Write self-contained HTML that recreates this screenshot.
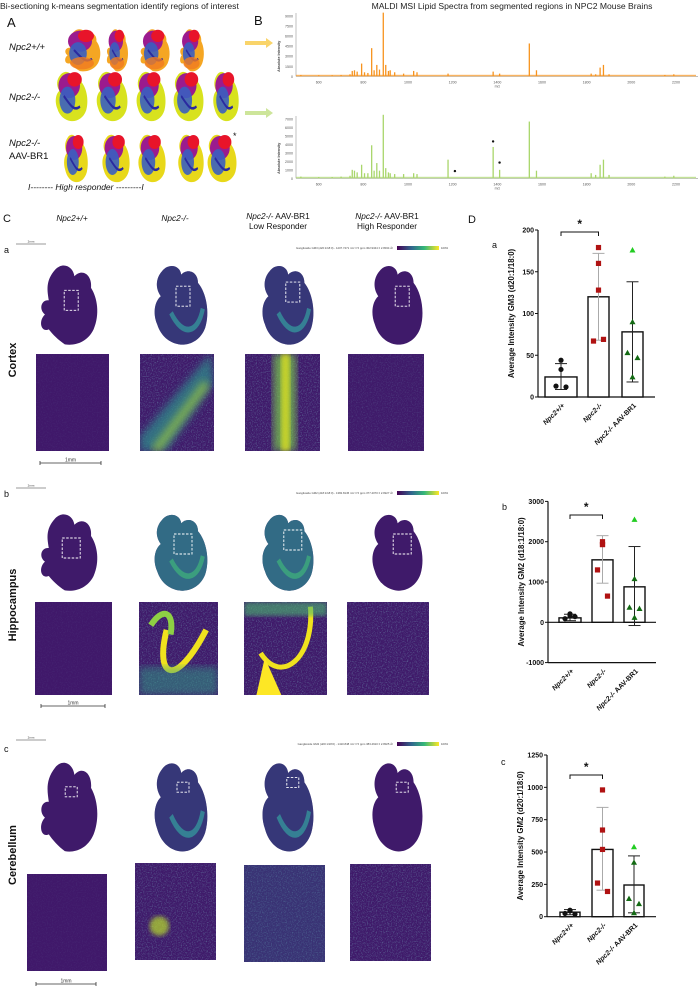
<!DOCTYPE html>
<html><head><meta charset="utf-8"><style>
html,body{margin:0;padding:0;background:#fff;}
svg{display:block;font-family:"Liberation Sans",sans-serif;}
</style></head><body>
<svg id="fig" width="698" height="988" viewBox="0 0 698 988" xmlns="http://www.w3.org/2000/svg">
<defs>
<path id="brainA" d="M30,8 C42,-2 58,4 60,16 C72,6 88,14 86,30 C96,42 100,62 90,80 C80,96 60,100 45,98 C35,93 26,86 20,80 C8,84 3,70 14,62 C4,56 8,44 20,45 C18,34 14,22 30,8 Z"/>
<path id="brainB" d="M20,10 C30,0 50,2 52,14 C62,6 80,10 80,24 C94,36 100,60 92,78 C84,94 64,100 48,98 C32,96 18,88 12,74 C4,60 8,46 18,40 C8,30 10,18 20,10 Z"/>
<filter id="noise" x="0" y="0" width="100%" height="100%"><feTurbulence type="fractalNoise" baseFrequency="0.8" numOctaves="2" result="n"/><feColorMatrix type="matrix" values="0 0 0 0 0.2  0 0 0 0 0.45  0 0 0 0 0.55  0 0 0 1.6 -0.75"/><feComposite in2="SourceGraphic" operator="in"/></filter>
<filter id="blur2"><feGaussianBlur stdDeviation="2"/></filter>
<filter id="blur4"><feGaussianBlur stdDeviation="4"/></filter>
</defs>

<!-- Titles -->
<text x="0" y="9" font-size="8.6" fill="#222">Bi-sectioning k-means segmentation identify regions of interest</text>
<text x="512" y="9" font-size="8.6" fill="#222" text-anchor="middle">MALDI MSI Lipid Spectra from segmented regions in NPC2 Mouse Brains</text>
<text x="7" y="27" font-size="13" fill="#111">A</text>
<text x="254" y="25" font-size="13" fill="#111">B</text>

<g font-size="9.5" fill="#111">
<text x="9" y="50" font-style="italic">Npc2+/+</text>
<text x="9" y="100" font-style="italic">Npc2-/-</text>
<text x="9" y="146" font-style="italic">Npc2-/-</text>
<text x="9" y="159">AAV-BR1</text>
<text x="28" y="190" font-style="italic" font-size="8.5">I-------- High responder ---------I</text>
<text x="224" y="145" font-size="14">*</text>
<text x="233" y="139" font-size="9">*</text>
</g>
<g id="brainsA"></g>

<!-- arrows -->
<g><rect x="245" y="41" width="22" height="4" fill="#f9d46a"/><polygon points="266,38 273,43 266,48" fill="#f9d46a"/></g>
<g><rect x="245" y="111" width="22" height="4" fill="#cde59a"/><polygon points="266,108 273,113 266,118" fill="#cde59a"/></g>

<g id="spectra"></g>

<!-- Panel C headers -->
<text x="3" y="222" font-size="11" fill="#111">C</text>
<g font-size="8.3" fill="#111" text-anchor="middle">
<text x="72" y="221" font-style="italic">Npc2+/+</text>
<text x="175" y="221" font-style="italic">Npc2-/-</text>
<text x="278" y="219"><tspan font-style="italic">Npc2-/-</tspan> AAV-BR1</text>
<text x="278" y="229">Low Responder</text>
<text x="387" y="219"><tspan font-style="italic">Npc2-/-</tspan> AAV-BR1</text>
<text x="387" y="229">High Responder</text>
</g>
<text x="468" y="223" font-size="11" fill="#111">D</text>

<g id="imaging"></g>
<g id="charts"></g>
</svg>
<script>
const NS="http://www.w3.org/2000/svg";
function mk(tag,attrs,parent,txt){const e=document.createElementNS(NS,tag);for(const k in attrs)e.setAttribute(k,attrs[k]);if(txt!==undefined)e.textContent=txt;parent.appendChild(e);return e;}

/* ---------- spectra data ---------- */
const specMz=[520,600,660,700,740,750,760,772,792,805,820,837,848,860,872,889,900,912,920,940,980,1025,1040,1179,1381,1410,1543,1575,1820,1840,1860,1875,1900,2150,2190];
const specTop=[200,150,150,200,300,800,900,700,1900,600,500,4200,900,1700,1000,9500,1700,800,900,600,400,800,600,400,700,400,4900,900,400,300,1300,1700,300,200,300];
const specBottom=[200,150,150,200,300,1000,900,700,1600,600,600,3900,900,1800,900,7500,1200,700,600,500,500,600,500,2200,3700,1000,6700,900,600,400,1600,2200,400,200,300];
const specTicks=[600,800,1000,1200,1400,1600,1800,2000,2200];
const starMz=[1210,1381,1410];
const starVal=[500,4000,1500];

(function(){
const g=document.getElementById('spectra');
const xm=m=>318.7+(m-600)*0.2233;
function spec(y0,pxPer1000,maxTick,tickStep,vals,color,name){
  const sg=mk('g',{},g);
  
  
  const yv=v=>y0-v/1000*pxPer1000;
  mk('line',{x1:296,y1:y0,x2:698,y2:y0,stroke:'#999','stroke-width':0.6},sg);
  mk('line',{x1:296,y1:y0,x2:296,y2:yv(maxTick)-3,stroke:'#999','stroke-width':0.6},sg);
  for(let t=0;t<=maxTick;t+=tickStep){
    mk('text',{x:293,y:yv(t)+1.5,'font-size':3.6,'text-anchor':'end',fill:'#555'},sg,String(t));
  }
  specTicks.forEach(t=>{mk('text',{x:xm(t),y:y0+7,'font-size':3.6,'text-anchor':'middle',fill:'#555'},sg,String(t));});
  mk('text',{x:xm(1400),y:y0+11,'font-size':3.4,'text-anchor':'middle',fill:'#555'},sg,'m/z');
  mk('text',{x:0,y:0,'font-size':3.6,'font-weight':'bold',fill:'#444',transform:`translate(280,${y0-20}) rotate(-90)`,'text-anchor':'middle'},sg,'Absolute Intensity');
  mk('rect',{x:296,y:y0-1.5,width:400,height:1.5,fill:color,opacity:0.7},sg);
  specMz.forEach((m,i)=>{
    const p=mk('rect',{x:xm(m)-0.6,y:yv(vals[i]),width:1.3,height:vals[i]/1000*pxPer1000,fill:color},sg);
    
    
  });
  return yv;
}
spec(76.3,6.7,9000,1500,specTop,'#f7931e','spectrum-wt');
const yb=spec(178.3,8.47,7000,1000,specBottom,'#a9d66b','spectrum-ko');
starMz.forEach((m,i)=>{const c=mk('circle',{cx:xm(m),cy:yb(starVal[i])-3,r:1.2,fill:'#111'},g);
  });
})();

/* ---------- panel A brains ---------- */
(function(){
const g=document.getElementById('brainsA');
const rows=[
 {y:28,h:44,base:'#f5a623',items:[[62,40],[105,24],[138,33],[178,27]],shape:'brainA'},
 {y:70,h:52,base:'#d8e21e',items:[[53,36],[94,35],[134,33],[171,34],[211,29]],shape:'brainB'},
 {y:133,h:50,base:'#e8d81a',items:[[62,27],[100,31],[136,31],[176,29],[205,33]],shape:'brainB'}
];
rows.forEach((r,ri)=>{
  r.items.forEach(([x,w],i)=>{
    const bg=mk('g',{transform:`translate(${x},${r.y}) scale(${w/100},${r.h/100})`},g);
    
    
    mk('use',{href:'#'+r.shape,fill:r.base},bg);
    mk('ellipse',{cx:45,cy:30,rx:30,ry:24,fill:'#9b1b8e'},bg);
    mk('ellipse',{cx:60,cy:18,rx:20,ry:14,fill:'#e8142a'},bg);
    mk('ellipse',{cx:40,cy:58,rx:22,ry:26,fill:'#3a5fc0',opacity:0.9},bg);
    mk('path',{d:'M30,50 C50,70 60,80 75,70',stroke:'#2a2aa0','stroke-width':5,fill:'none'},bg);
    if(ri===0) mk('ellipse',{cx:50,cy:80,rx:30,ry:14,fill:'#f07a20',opacity:0.8},bg);
  });
});
})();

/* ---------- imaging panels ---------- */
(function(){
const g=document.getElementById('imaging');
const D='#3f1a6a';
const rowsY=[{lab:'a',ly:253,bar:244,cb:247,by:263,bh:83,ty:[354,354,354,354],tb:[451,451,451,451],tx:[[36,109],[140,214],[245,320],[348,424]],name:'Cortex',ny:360,sb:463,sbx:[40,101]},
 {lab:'b',ly:497,bar:488,cb:492,by:512,bh:80,ty:[602,602,602,602],tb:[695,695,695,695],tx:[[35,112],[139,218],[244,327],[347,429]],name:'Hippocampus',ny:605,sb:706,sbx:[41,105]},
 {lab:'c',ly:752,bar:740,cb:743,by:760,bh:93,ty:[874,863,865,864],tb:[971,960,962,961],tx:[[27,107],[135,216],[244,325],[350,431]],name:'Cerebellum',ny:855,sb:984,sbx:[36,96]}];
const brainX=[[36,100],[150,210],[258,316],[368,425]];
rowsY.forEach((r,ri)=>{
  mk('text',{x:4,y:r.ly,'font-size':9,fill:'#111'},g,r.lab);
  mk('line',{x1:16,y1:r.bar,x2:46,y2:r.bar,stroke:'#333','stroke-width':0.6},g);
  mk('text',{x:(16+46)/2,y:r.bar-1.5,'font-size':3,'text-anchor':'middle',fill:'#333'},g,'2mm');
  const cbg=mk('defs',{},g);
  const lg=mk('linearGradient',{id:'vir'+ri,x1:0,x2:1,y1:0,y2:0},cbg);
  [['0','#440154'],['0.35','#31688e'],['0.65','#35b779'],['1','#fde725']].forEach(s=>mk('stop',{offset:s[0],'stop-color':s[1]},lg));
  mk('text',{x:393,y:r.cb+2,'font-size':2.8,'text-anchor':'end',fill:'#444'},g,['Ganglioside GM3 (d20:1/18:0) - 1207.7471 m/z ± 5 ppm 302.9344 ± 2.8034 Å²','Ganglioside GM2 (d18:1/18:0) - 1382.8145 m/z ± 5 ppm 377.4070 ± 2.8227 Å²','Ganglioside GM2 (d20:1/18:0) - 1410.848 m/z ± 5 ppm 383.4910 ± 2.8025 Å²'][ri]);
  mk('rect',{x:397,y:r.cb-1,width:42,height:4,fill:`url(#vir${ri})`},g);
  mk('text',{x:441,y:r.cb+2,'font-size':2.8,fill:'#444'},g,'100%');
  mk('text',{x:0,y:0,'font-size':11,'font-weight':'bold',fill:'#111','text-anchor':'middle',transform:`translate(16,${r.ny}) rotate(-90)`},g,r.name);
  brainX.forEach(([x1,x2],ci)=>{
    const w=x2-x1;
    const bg=mk('g',{transform:`translate(${x1},${r.by}) scale(${w/100},${r.bh/100})`},g);
    
    
    mk('use',{href:ci===0?'#brainA':'#brainB',fill:D},bg);
    if(ci===1||ci===2){
      const tint=ri===1?'#2f7f8c':'#2d5c8a';
      mk('use',{href:'#brainB',fill:tint,opacity:ri===1?0.8:0.45},bg);
      mk('path',{d:'M35,60 C55,90 80,85 88,55',stroke:ri===1?'#3fb37a':'#35a0a0','stroke-width':7,fill:'none',opacity:0.7},bg);
    }
    const bx=[[0.55,0.45],[0.55,0.4],[0.6,0.35],[0.6,0.4]][ci];
    const bw=ri===0?14:(ri===1?18:12), bh=ri===0?20:(ri===1?20:10);
    mk('rect',{x:x1+bx[0]*w-bw/2,y:r.by+bx[1]*r.bh-bh/2+(ri===2?-10:0),width:bw,height:bh,fill:'none',stroke:'#fff','stroke-width':0.9,'stroke-dasharray':'2.5,1.5'},g);
  });
  r.tx.forEach(([x1,x2],ci)=>{
    const y1=r.ty[ci],y2=r.tb[ci],w=x2-x1,h=y2-y1;
    const tg=mk('g',{},g);
    
    
    const cp=mk('clipPath',{id:`cp${ri}${ci}`},cbg);
    mk('rect',{x:x1,y:y1,width:w,height:h},cp);
    const cg=mk('g',{'clip-path':`url(#cp${ri}${ci})`},tg);
    mk('rect',{x:x1,y:y1,width:w,height:h,fill:ci===0?'#40186a':D},cg);
    mk('rect',{x:x1,y:y1,width:w,height:h,fill:'#000',filter:'url(#noise)',opacity:ci===0?0.15:(ri===0&&ci===3?0.35:0.7)},cg);
    if(ri===0&&ci===1){mk('path',{d:`M${x1+w*0.95},${y1} L${x1+w},${y1+h*0.3} L${x1+w*0.35},${y2} L${x1},${y2} L${x1},${y1+h*0.85} Z`,fill:'#2f8a8a',opacity:0.75,filter:'url(#blur4)'},cg);
      mk('path',{d:`M${x1+w*0.9},${y1+h*0.3} L${x1+w*0.2},${y2}`,stroke:'#b8de29','stroke-width':9,opacity:0.55,filter:'url(#blur4)'},cg);}
    if(ri===0&&ci===2){mk('rect',{x:x1+w*0.38,y:y1,width:w*0.3,height:h,fill:'#7ac94a',opacity:0.75,filter:'url(#blur4)'},cg);
      mk('rect',{x:x1+w*0.48,y:y1,width:w*0.12,height:h,fill:'#e6e41e',opacity:0.7,filter:'url(#blur2)'},cg);}
    if(ri===1&&ci===1){mk('path',{d:`M${x1+w*0.35},${y1+h*0.3} C${x1+w*0.2},${y1+h*0.8} ${x1+w*0.45},${y1+h*0.95} ${x1+w*0.85},${y1+h*0.3}`,stroke:'#f0e21e','stroke-width':6,fill:'none'},cg);
      mk('path',{d:`M${x1+w*0.15},${y1+h*0.25} C${x1+w*0.3},${y1+h*0.05} ${x1+w*0.45},${y1+h*0.1} ${x1+w*0.4},${y1+h*0.35}`,stroke:'#8ed044','stroke-width':6,fill:'none'},cg);
      mk('rect',{x:x1,y:y1+h*0.7,width:w,height:h*0.3,fill:'#2fa085',opacity:0.5,filter:'url(#blur4)'},cg);}
    if(ri===1&&ci===2){mk('path',{d:`M${x1+w*0.2},${y1+h*0.55} C${x1+w*0.45},${y1+h*0.9} ${x1+w*0.85},${y1+h*0.6} ${x1+w*0.8},${y1+h*0.05}`,stroke:'#f0e21e','stroke-width':5,fill:'none'},cg);
      mk('path',{d:`M${x1+w*0.15},${y2} L${x1+w*0.25},${y1+h*0.6} L${x1+w*0.45},${y2} Z`,fill:'#fde725'},cg);
      mk('rect',{x:x1,y:y1,width:w,height:h*0.15,fill:'#4cb870',opacity:0.6,filter:'url(#blur2)'},cg);}
    if(ri===2&&ci===1){mk('ellipse',{cx:x1+w*0.3,cy:y1+h*0.65,rx:w*0.12,ry:h*0.1,fill:'#b8de29',opacity:0.7,filter:'url(#blur2)'},cg);}
    if(ri===2&&ci===2){mk('rect',{x:x1,y:y1,width:w,height:h,fill:'#2a6a8a',opacity:0.3},cg);}
  });
  mk('line',{x1:r.sbx[0],y1:r.sb,x2:r.sbx[1],y2:r.sb,stroke:'#333','stroke-width':0.8},g);
  mk('line',{x1:r.sbx[0],y1:r.sb-2,x2:r.sbx[0],y2:r.sb+2,stroke:'#333','stroke-width':0.8},g);
  mk('line',{x1:r.sbx[1],y1:r.sb-2,x2:r.sbx[1],y2:r.sb+2,stroke:'#333','stroke-width':0.8},g);
  mk('text',{x:(r.sbx[0]+r.sbx[1])/2,y:r.sb-1.5,'font-size':5,'text-anchor':'middle',fill:'#333'},g,'1mm');
});
})();

/* ---------- bar chart data ---------- */
const groupLabels=['Npc2+/+','Npc2-/-','Npc2-/- AAV-BR1'];
const gm3Means=[24,120,78];
const gm3ErrHi=[40,172,138];
const gm3ErrLo=[9,68,18];
const gm3Pts=[[44,33,13,12],[179,160,128,67,69],[176,90,53,47,24]];
const gm3Ticks=[0,50,100,150,200];

const gm2aMeans=[110,1550,880];
const gm2aErrHi=[200,2150,1880];
const gm2aErrLo=[40,970,-80];
const gm2aPts=[[160,210,90,140],[1930,2000,1930,1300,650],[2550,1080,370,340,120]];
const gm2aTicks=[-1000,0,1000,2000,3000];

const gm2bMeans=[35,520,245];
const gm2bErrHi=[55,845,470];
const gm2bErrLo=[15,205,30];
const gm2bPts=[[50,45,25,20],[980,670,520,260,195],[540,420,140,100,30]];
const gm2bTicks=[0,250,500,750,1000,1250];

(function(){
const g=document.getElementById('charts');
function chart(o){
  const cg=mk('g',{},g);
  
  
  const y=v=>o.y0-(v)*o.k;
  const ymin=o.ticks[0], ymax=o.ticks[o.ticks.length-1];
  mk('text',{x:o.ax-46,y:o.labY,'font-size':9,fill:'#111'},cg,o.lab);
  mk('line',{x1:o.ax,y1:y(ymin),x2:o.ax,y2:y(ymax),stroke:'#111','stroke-width':1.2},cg);
  mk('line',{x1:o.ax,y1:y(ymin),x2:o.xEnd,y2:y(ymin),stroke:'#111','stroke-width':1.2},cg);
  if(ymin<0) mk('line',{x1:o.ax,y1:y(0),x2:o.xEnd,y2:y(0),stroke:'#111','stroke-width':1.2},cg);
  o.ticks.forEach(t=>{
    mk('line',{x1:o.ax-3,y1:y(t),x2:o.ax,y2:y(t),stroke:'#111','stroke-width':1},cg);
    const tl=mk('text',{x:o.ax-4,y:y(t)+2.5,'font-size':7,'font-weight':'bold','text-anchor':'end',fill:'#111'},cg,String(t));
    
  });
  const yt=mk('text',{x:0,y:0,'font-size':7.8,'font-weight':'bold','text-anchor':'middle',fill:'#111',transform:`translate(${o.ax-24},${(y(ymin)+y(ymax))/2}) rotate(-90)`},cg,o.ytitle);
  
  o.means.forEach((m,i)=>{
    const cx=o.cx[i],w=o.w[i];
    const b=mk('rect',{x:cx-w/2,y:Math.min(y(m),y(0)),width:w,height:Math.abs(y(0)-y(m)),fill:'#fff',stroke:'#111','stroke-width':1.4},cg);
    
    
    const ec=i===1?'#aaa':'#222';
    mk('line',{x1:cx,y1:y(o.hi[i]),x2:cx,y2:y(o.lo[i]),stroke:ec,'stroke-width':1},cg);
    mk('line',{x1:cx-6,y1:y(o.hi[i]),x2:cx+6,y2:y(o.hi[i]),stroke:ec,'stroke-width':1},cg);
    mk('line',{x1:cx-6,y1:y(o.lo[i]),x2:cx+6,y2:y(o.lo[i]),stroke:ec,'stroke-width':1},cg);
    o.pts[i].forEach((v,j)=>{
      const px=cx+(o.pts[i].length===4?[0,0,-5,5][j]:(i===2?[0,0,-5,5,0][j]:[0,0,0,-5,5][j]));
      let p;
      if(i===0) p=mk('circle',{cx:px,cy:y(v),r:2.6,fill:'#111'},cg);
      else if(i===1) p=mk('rect',{x:px-2.6,y:y(v)-2.6,width:5.2,height:5.2,fill:'#b01212'},cg);
      else p=mk('polygon',{points:`${px},${y(v)-3} ${px-3},${y(v)+2.4} ${px+3},${y(v)+2.4}`,fill:j===0?'#22cc22':'#136a13'},cg);
      
      
    });
    const xl=mk('text',{x:0,y:0,'font-size':7,'font-weight':'bold','text-anchor':'end',fill:'#111',transform:`translate(${cx+4},${y(ymin)+9}) rotate(-45)`},cg);
    
    const parts=groupLabels[i].split(' ');
    mk('tspan',{'font-style':'italic'},xl,parts[0]);
    if(parts[1]) mk('tspan',{},xl,' '+parts[1]);
  });
  mk('path',{d:`M${o.cx[0]},${o.brY+4} L${o.cx[0]},${o.brY} L${o.cx[1]},${o.brY} L${o.cx[1]},${o.brY+4}`,stroke:'#111','stroke-width':1,fill:'none'},cg);
  mk('text',{x:(o.cx[0]+o.cx[1])/2,y:o.brY-4,'font-size':12,'font-weight':'bold','text-anchor':'middle',fill:'#111'},cg,'*');
}
chart({name:'chart-gm3',lab:'a',labY:248,ax:538,xEnd:655,y0:397,k:(397-230)/200,ticks:gm3Ticks,means:gm3Means,hi:gm3ErrHi,lo:gm3ErrLo,pts:gm3Pts,cx:[561,598.5,632.5],w:[32,21,21],brY:232,ytitle:'Average Intensity GM3 (d20:1/18:0)'});
chart({name:'chart-gm2-d18',lab:'b',labY:510,ax:548,xEnd:656,y0:622.3,k:40.3/1000,ticks:gm2aTicks,means:gm2aMeans,hi:gm2aErrHi,lo:gm2aErrLo,pts:gm2aPts,cx:[570,602.5,634.5],w:[22,21,21],brY:515,ytitle:'Average Intensity GM2 (d18:1/18:0)'});
chart({name:'chart-gm2-d20',lab:'c',labY:765,ax:547,xEnd:656,y0:916.7,k:(916.7-755)/1250,ticks:gm2bTicks,means:gm2bMeans,hi:gm2bErrHi,lo:gm2bErrLo,pts:gm2bPts,cx:[570,602.5,634],w:[20,21,20],brY:775,ytitle:'Average Intensity GM2 (d20:1/18:0)'});
})();
</script>
</body></html>
